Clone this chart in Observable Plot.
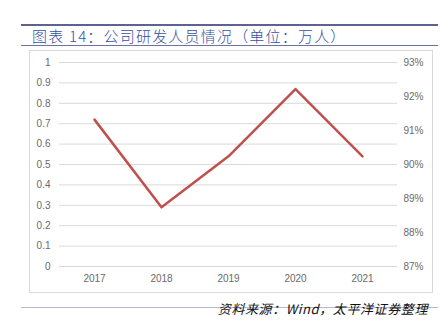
<!DOCTYPE html>
<html><head><meta charset="utf-8">
<script src="https://cdn.jsdelivr.net/npm/d3@7"></script>
<script src="https://cdn.jsdelivr.net/npm/@observablehq/plot@0.6"></script>
<style>
html,body{margin:0;padding:0;background:#fff;}
#wrap{position:relative;width:448px;height:334px;overflow:hidden;font-family:"Liberation Sans",Arial,sans-serif;}
.abs{position:absolute;}
</style></head>
<body><div id="wrap">
<div class="abs" style="left:21px;top:24px;width:417px;height:2px;background:#5d6290;"></div>
<div class="abs" id="title" style="left:32px;top:27px;font-family:'Noto Sans CJK SC',sans-serif;font-size:15px;font-weight:300;letter-spacing:1.2px;color:#34519f;line-height:18px;white-space:nowrap;"></div>
<div class="abs" style="left:21px;top:45px;width:417px;height:1px;background:#6b73a6;"></div>
<div class="abs" style="left:29px;top:50px;width:402px;height:241px;border:1px solid #d9d9d9;"></div>
<div class="abs" id="chart" style="left:29px;top:50px;"></div>
<div class="abs" style="left:21px;top:307px;width:417px;height:1px;background:#b7b7d6;"></div>
<div class="abs" id="source" style="right:20px;top:301px;font-family:'Noto Sans CJK SC',sans-serif;font-size:13px;font-style:italic;letter-spacing:0.6px;color:#111;line-height:16px;white-space:nowrap;"></div>
</div>
<script>
const titleText = "图表 14：公司研发人员情况（单位：万人）";
const sourceText = "资料来源：Wind，太平洋证券整理";
const years = ["2017","2018","2019","2020","2021"];
const staff = [0.72, 0.29, 0.54, 0.87, 0.54];
const leftTicks = [0,0.1,0.2,0.3,0.4,0.5,0.6,0.7,0.8,0.9,1];
const rightTicks = [0.87,0.88,0.89,0.90,0.91,0.92,0.93];
const rightMin = 0.87, rightMax = 0.93;

document.getElementById("title").textContent = titleText;
document.getElementById("source").textContent = sourceText;

const data = years.map((y,i)=>({year:y, value:staff[i]}));
const toLeft = v => (v - rightMin)/(rightMax - rightMin);

const chart = Plot.plot({
  width: 403, height: 242,
  marginLeft: 30, marginRight: 35, marginTop: 12, marginBottom: 26,
  style: {fontFamily: "'Liberation Sans', Arial, sans-serif", fontSize: "10px", color: "#6a6a6a", background: "transparent"},
  x: {type: "point", domain: years, padding: 0.5},
  y: {domain: [0, 1]},
  marks: [
    Plot.ruleY(leftTicks, {stroke: "#d9d9d9", strokeWidth: 1}),
    Plot.axisY({ticks: leftTicks, tickSize: 0, tickPadding: 9, tickFormat: d => String(+d.toFixed(1)), label: null}),
    Plot.axisY({anchor: "right", ticks: rightTicks.map(toLeft), tickSize: 0, tickPadding: 6, tickFormat: d => Math.round((rightMin + d*(rightMax-rightMin))*100) + "%", label: null, textAnchor: "start"}),
    Plot.axisX({tickSize: 0, tickPadding: 8, label: null}),
    Plot.line(data, {x: "year", y: "value", stroke: "#c0504d", strokeWidth: 2.5, strokeLinejoin: "round"})
  ]
});
document.getElementById("chart").appendChild(chart);
</script>
</body></html>
